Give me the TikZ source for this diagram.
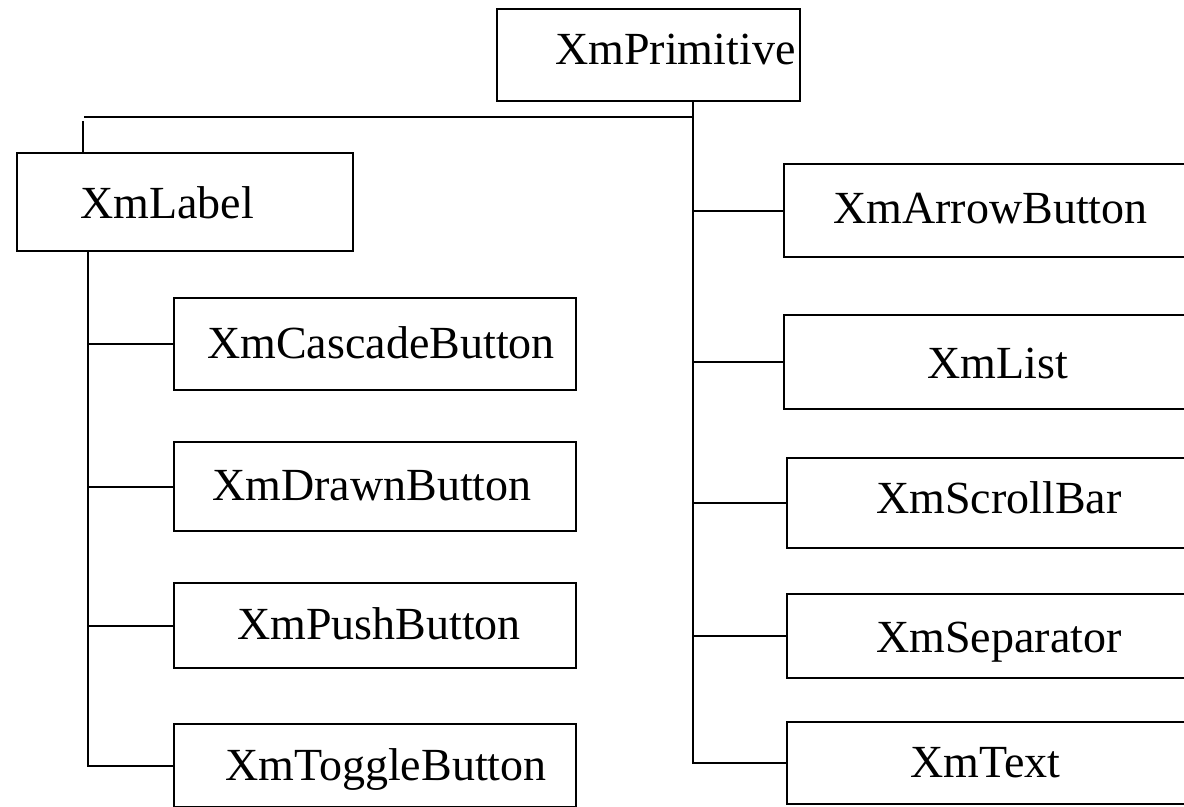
\documentclass[tikz,border=0pt]{standalone}
\usepackage{fontspec}
\setmainfont{Liberation Serif}
\begin{document}
\begin{tikzpicture}[x=0.75pt,y=-0.75pt,
  bx/.style={draw, rectangle, inner sep=0pt, anchor=north west, line width=1.5pt},
  tx/.style={anchor=base west, inner sep=0pt, font=\fontsize{34.5}{40}\selectfont},
  ln/.style={line width=1.5pt}]
\useasboundingbox (0,0) rectangle (1184,806);
% boxes
\node[bx, minimum width=227.25pt, minimum height=69pt] (prim) at (496,8) {};
\node[bx, minimum width=252pt, minimum height=73.5pt] (label) at (16,152) {};
\node[bx, minimum width=301.5pt, minimum height=69pt] (cascade) at (173,297) {};
\node[bx, minimum width=301.5pt, minimum height=66.75pt] (drawn) at (173,441) {};
\node[bx, minimum width=301.5pt, minimum height=63.75pt] (push) at (173,582) {};
\node[bx, minimum width=301.5pt, minimum height=62.25pt] (toggle) at (173,723) {};
\node[bx, minimum width=322.5pt, minimum height=69.75pt] (arrow) at (783,163) {};
\node[bx, minimum width=322.5pt, minimum height=70.5pt] (list) at (783,314) {};
\node[bx, minimum width=320.25pt, minimum height=67.5pt] (scroll) at (786,457) {};
\node[bx, minimum width=320.25pt, minimum height=63pt] (sep) at (786,593) {};
\node[bx, minimum width=320.25pt, minimum height=61.5pt] (txt) at (786,721) {};
% texts
\node[tx] (primt) at (555,65) {XmPrimitive};
\node[tx] (labelt) at (80,218) {XmLabel};
\node[tx] (cascadet) at (207,358) {XmCascadeButton};
\node[tx] (drawnt) at (212,500) {XmDrawnButton};
\node[tx] (pusht) at (237,639) {XmPushButton};
\node[tx] (togglet) at (225,780) {XmToggleButton};
\node[tx] (arrowt) at (833,223) {XmArrowButton};
\node[tx] (listt) at (927,378) {XmList};
\node[tx] (scrollt) at (876,513) {XmScrollBar};
\node[tx] (sept) at (876,652) {XmSeparator};
\node[tx] (txtt) at (910,777) {XmText};
% connectors
\coordinate (j) at (693,117);
\coordinate (lj) at (84,117);
\coordinate (lt) at (88,250);
\draw[ln] (lj) -- (j);
\draw[ln] (label.north -| 83,0) -- (83,121);
\draw[ln] (prim.south -| j) -- (j |- txt.west) -- (txt.west);
\foreach \n in {arrow,list,scroll,sep}
  \draw[ln] (j |- \n.west) -- (\n.west);
\draw[ln] (label.south -| lt) -- (lt |- toggle.west) -- (toggle.west);
\foreach \n in {cascade,drawn,push}
  \draw[ln] (lt |- \n.west) -- (\n.west);
\end{tikzpicture}
\end{document}
